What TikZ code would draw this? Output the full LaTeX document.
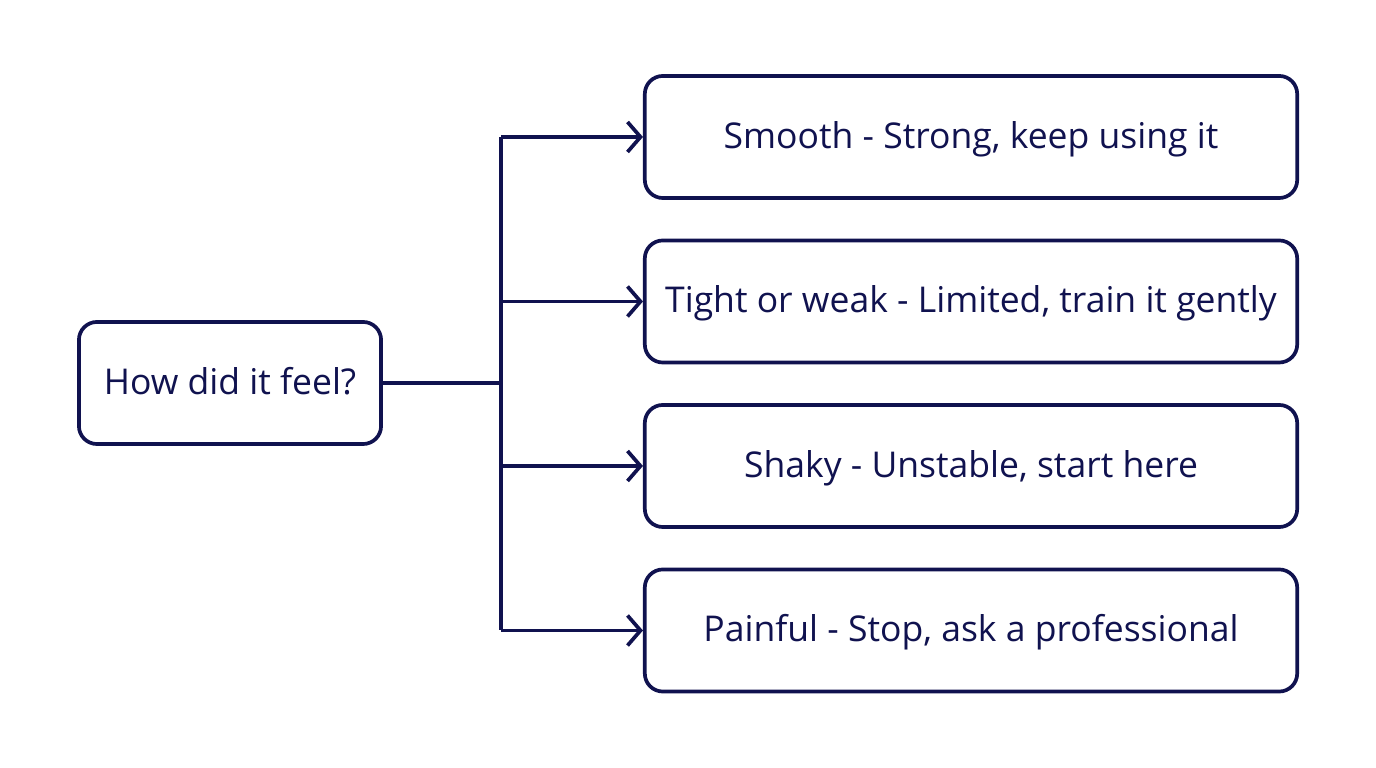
\documentclass[tikz,border=0pt]{standalone}
\usepackage{fontspec}
\setmainfont{Open Sans}
\usetikzlibrary{arrows.meta}
\definecolor{navy}{HTML}{10124F}
\begin{document}
\begin{tikzpicture}[x=0.01cm,y=-0.01cm,
  box/.style={draw=navy,line width=1.05pt,rounded corners=0.18cm,minimum height=1.22cm,text=navy,font=\fontsize{10.1pt}{12pt}\selectfont,text height=7.6pt,text depth=1.2pt},
  con/.style={draw=navy,line width=1.05pt},
  arr/.style={con,-{Straight Barb[length=0.13cm,width=0.3cm,line width=1.05pt]}}]
\useasboundingbox (0,0) rectangle (1376,768);
\node[box,minimum width=3.02cm] (q) at (230,383) {How did it feel?};
\node[box,minimum width=6.52cm] (a) at (971,137) {Smooth - Strong, keep using it};
\node[box,minimum width=6.52cm] (b) at (971,301.5) {Tight or weak - Limited, train it gently};
\node[box,minimum width=6.52cm] (c) at (971,466) {Shaky - Unstable, start here};
\node[box,minimum width=6.52cm] (d) at (971,630.5) {Painful - Stop, ask a professional};
\coordinate (j) at (501,383);
\draw[con] (q.east) -- (j);
\draw[con] (501,137) -- (501,630.5);
\foreach \n in {a,b,c,d} \draw[arr] (501,0 |- \n.west) -- (\n.west);
\end{tikzpicture}
\end{document}
